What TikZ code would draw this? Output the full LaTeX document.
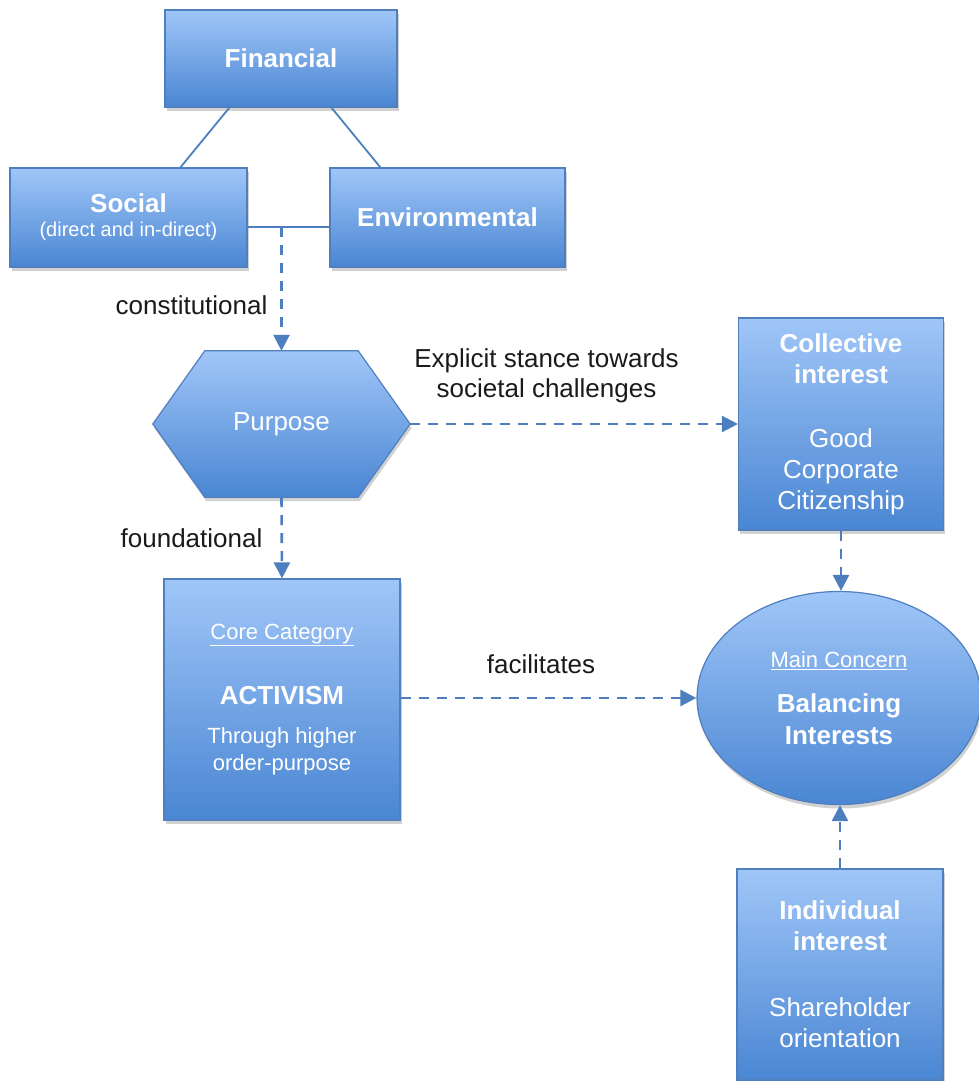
\documentclass[tikz,border=0pt]{standalone}
\usepackage{fontspec}
\setmainfont{Liberation Sans}
\usetikzlibrary{arrows.meta,shadows,calc,backgrounds,shapes.geometric}

\definecolor{boxtop}{HTML}{A0C6F8}
\definecolor{boxbot}{HTML}{4A86D3}
\definecolor{boxline}{HTML}{4F7FBF}
\definecolor{linkblue}{HTML}{4D7FBF}
\definecolor{labeltext}{HTML}{1A1A1A}

\begin{document}
\begin{tikzpicture}[x=1pt,y=-1pt,
  fill look/.style={draw=boxline, line width=1.2pt,
    top color=boxtop, bottom color=boxbot,
    drop shadow={shadow xshift=1.5pt, shadow yshift=-4pt, opacity=0.18, fill=black}},
  card/.style={rectangle, fill look, text=white, align=center, inner sep=0pt,
    font=\fontsize{26}{31}\selectfont},
  oval/.style={ellipse, fill look, text=white, align=center, inner sep=0pt,
    font=\fontsize{26}{31}\selectfont},
  hexholder/.style={rectangle, text=white, inner sep=0pt,
    font=\fontsize{26}{31}\selectfont},
  lab/.style={text=labeltext, inner sep=0pt, align=center,
    font=\fontsize{26}{30}\selectfont},
  solidlink/.style={draw=linkblue, line width=1.8pt},
  dashlink/.style={draw=linkblue, line width=2.6pt, dash pattern=on 10pt off 8pt,
    -{Triangle[length=16pt,width=16pt]}},
]
\path[use as bounding box, clip] (0,0) rectangle (979,1081);

% the three dimensions
\node[card, minimum width=232pt, minimum height=97pt] (fin) at (281,58.5)
  {\bfseries Financial};
\node[card, minimum width=237pt, minimum height=99pt,
  font=\fontsize{20}{24}\selectfont] (soc) at (128.5,217.5)
  {{\fontsize{26}{24}\selectfont\bfseries Social}\\(direct and in-direct)};
\node[card, minimum width=235pt, minimum height=99pt] (env) at (447.5,217.5)
  {\bfseries Environmental};

% purpose hexagon: text holder plus outline on the background layer
\node[hexholder, minimum width=257pt, minimum height=146pt] (purpose) at (281.5,424)
  {Purpose};
\begin{scope}[on background layer]
  \path[fill look]
    (purpose.west) -- ($(purpose.north west)+(52,0)$)
    -- ($(purpose.north east)+(-52,0)$) -- (purpose.east)
    -- ($(purpose.south east)+(-52,0)$) -- ($(purpose.south west)+(52,0)$)
    -- cycle;
\end{scope}

% interests and core category
\node[card, minimum width=205pt, minimum height=212pt] (coll) at (841,424)
  {\bfseries Collective\\\bfseries interest\\[33pt]Good\\Corporate\\Citizenship};
\node[card, minimum width=236pt, minimum height=241pt,
  font=\fontsize{22}{27}\selectfont] (core) at (282,699.5)
  {\underline{Core Category}\\[38pt]{\fontsize{26}{27}\selectfont\bfseries ACTIVISM}\\[12pt]Through higher\\order-purpose};
\node[oval, minimum width=284pt, minimum height=213pt] (ell) at (839,698)
  {{\fontsize{22}{31}\selectfont\underline{Main Concern}}\\[14pt]\bfseries Balancing\\[1pt]\bfseries Interests};
\node[card, minimum width=206pt, minimum height=211pt] (indiv) at (840,974.5)
  {\bfseries Individual\\\bfseries interest\\[35pt]Shareholder\\orientation};

% connectors
\draw[solidlink] ($(fin.south west)+(65,0)$) -- ($(soc.north west)+(171,0)$);
\draw[solidlink] ($(fin.south west)+(167,0)$) -- ($(env.north west)+(51,0)$);
\coordinate (junc) at (281.5,227);
\draw[solidlink] (soc.east |- junc) -- (env.west |- junc);
\draw[dashlink] (junc) -- (purpose.north);
\draw[dashlink] (purpose.south) -- (core.north);
\draw[dashlink] (purpose.east) -- (coll.west |- purpose.east);
\draw[dashlink] (coll.south) -- (coll.south |- ell.north);
\draw[dashlink] (core.east |- ell.west) -- (ell.west);
\draw[dashlink] (indiv.north) -- (indiv.north |- ell.south);

% connector labels
\node[lab] (lconst) at (191.5,305) {constitutional};
\node[lab] (lfound) at (191.5,538) {foundational};
\node[lab] (lstance) at (546.5,376) {Explicit stance towards\\societal challenges};
\node[lab] (lfacil) at (541,664) {facilitates};
\end{tikzpicture}
\end{document}
